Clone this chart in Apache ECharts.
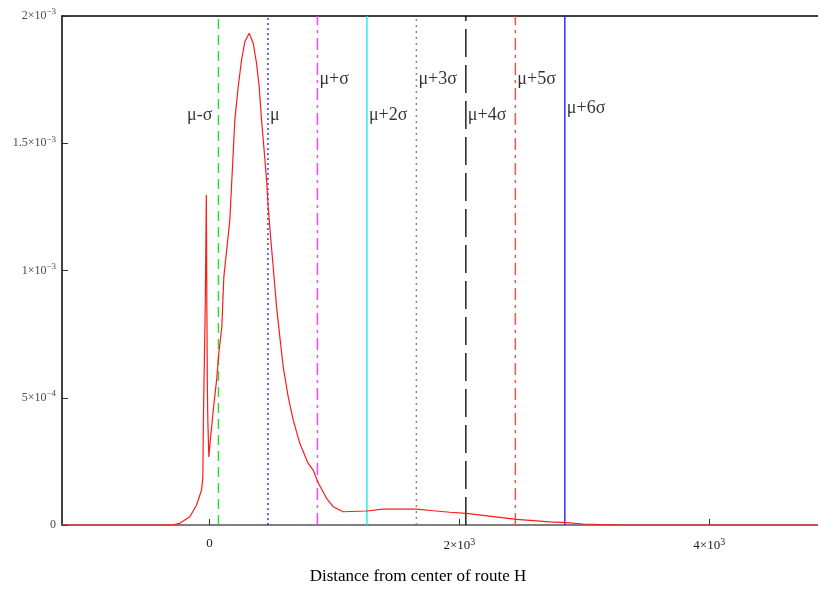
<!DOCTYPE html>
<html>
<head>
<meta charset="utf-8">
<script src="https://cdn.jsdelivr.net/npm/echarts@6/dist/echarts.min.js"></script>
<style>html,body{margin:0;padding:0;background:#fff}#chart{width:818px;height:590px}</style>
</head>
<body>
<div id="chart"></div>
<script>
// ---- data ----
const curveX = [-1180, -301, -237, -157, -103, -63, -53, -49, -33, -25, -21, -17, -13, -5, 3, 19, 35, 59, 75, 99, 115, 163, 190, 203, 230, 257, 283, 318, 350, 377, 398, 417, 435, 457, 470, 489, 510, 537, 563, 590, 630, 670, 723, 790, 830, 870, 937, 990, 1070, 1257, 1390, 1657, 1790, 1923, 2057, 2190, 2323, 2457, 2590, 2723, 2857, 2990, 3123, 3283, 4870];
const curveY = [0, 0, 0.0067e-3, 0.0326e-3, 0.0786e-3, 0.1375e-3, 0.185e-3, 0.393e-3, 0.884e-3, 1.297e-3, 0.884e-3, 0.55e-3, 0.413e-3, 0.267e-3, 0.314e-3, 0.393e-3, 0.472e-3, 0.578e-3, 0.676e-3, 0.778e-3, 0.974e-3, 1.198e-3, 1.462e-3, 1.591e-3, 1.722e-3, 1.827e-3, 1.899e-3, 1.932e-3, 1.893e-3, 1.814e-3, 1.722e-3, 1.591e-3, 1.487e-3, 1.356e-3, 1.251e-3, 1.133e-3, 1.015e-3, 0.858e-3, 0.740e-3, 0.622e-3, 0.504e-3, 0.413e-3, 0.321e-3, 0.242e-3, 0.216e-3, 0.166e-3, 0.105e-3, 0.072e-3, 0.052e-3, 0.055e-3, 0.062e-3, 0.062e-3, 0.056e-3, 0.050e-3, 0.046e-3, 0.038e-3, 0.030e-3, 0.022e-3, 0.017e-3, 0.012e-3, 0.009e-3, 0.004e-3, 0.002e-3, 0, 0];

const mu = 468;
const sigma = 396;
const sigmaMultiples = [-1, 0, 1, 2, 3, 4, 5, 6];
const sigmaLabels = ['μ-σ', 'μ', 'μ+σ', 'μ+2σ', 'μ+3σ', 'μ+4σ', 'μ+5σ', 'μ+6σ'];
const sigmaLabelY = [1.611e-3, 1.611e-3, 1.752e-3, 1.611e-3, 1.752e-3, 1.611e-3, 1.752e-3, 1.638e-3];

const xRange = [-1180, 4870];
const yRange = [0, 0.002];
const xTickValues = [0, 2000, 4000];
const xTickMantissa = ['0', '2', '4'];
const xTickExp = ['', '3', '3'];
const yTickValues = [0, 0.0005, 0.001, 0.0015, 0.002];
const yTickMantissa = ['0', '5', '1', '1.5', '2'];
const yTickExp = ['', '−4', '−3', '−3', '−3'];
const xAxisTitle = 'Distance from center of route H';

// ---- styles ----
const lineStyles = [
  {color: '#33dd33', width: 1.5, type: [10, 6]},
  {color: '#1a1aff', width: 1.3, type: [2, 3]},
  {color: '#ff44ff', width: 1.5, type: [12, 5, 3, 5]},
  {color: '#20e8e8', width: 1.4, type: 'solid'},
  {color: '#b07a48', width: 1.5, type: [2, 4]},
  {color: '#000000', width: 1.3, type: [28, 8]},
  {color: '#ff5050', width: 1.5, type: [12, 5, 3, 5]},
  {color: '#2020ff', width: 1.4, type: 'solid'}
];
const serif = '"Liberation Serif", "Times New Roman", serif';

const curveData = curveX.map((x, i) => [x, curveY[i]]);
const positions = sigmaMultiples.map(k => mu + k * sigma);
const lineSeries = positions.map((x, i) => ({
  name: sigmaLabels[i], type: 'line', silent: true, showSymbol: false, z: 3,
  data: [[x, yRange[0]], [x, yRange[1]]],
  lineStyle: lineStyles[i], itemStyle: {color: lineStyles[i].color}
}));
const labelData = positions.map((x, i) => ({
  value: [x, sigmaLabelY[i]],
  label: {position: i === 0 ? 'left' : 'right', distance: i === 0 ? 6 : 2}
}));

function sciLabel(mant, exp) {
  if (!exp) return '{m|' + mant + '}';
  return '{m|' + mant + '×10}{s|' + exp + '}';
}

const chart = echarts.init(document.getElementById('chart'), null, {renderer: 'canvas'});
chart.setOption({
  animation: false,
  backgroundColor: '#ffffff',
  grid: {left: 62, right: 0, top: 16, bottom: 65, containLabel: false},
  xAxis: [{
    type: 'value', min: xRange[0], max: xRange[1],
    name: xAxisTitle, nameLocation: 'middle', nameGap: 43,
    nameTextStyle: {fontFamily: serif, fontSize: 17, color: '#000', padding: [0, 44, 0, 0]},
    axisLine: {show: true, onZero: false, lineStyle: {color: '#555', width: 1.5}},
    axisTick: {show: true, inside: true, length: 6, customValues: xTickValues, lineStyle: {color: '#333'}},
    axisLabel: {
      show: true, margin: 12, customValues: xTickValues,
      formatter: v => { const i = xTickValues.indexOf(v); return i < 0 ? '' : sciLabel(xTickMantissa[i], xTickExp[i]); },
      rich: {
        m: {fontFamily: serif, fontSize: 13, color: '#222'},
        s: {fontFamily: serif, fontSize: 10, color: '#222', padding: [0, 0, 8, 0]}
      }
    },
    splitLine: {show: false}
  }, {
    type: 'value', min: xRange[0], max: xRange[1], position: 'top',
    axisLine: {show: true, onZero: false, lineStyle: {color: '#000', width: 1.5}},
    axisTick: {show: false}, axisLabel: {show: false}, splitLine: {show: false}
  }],
  yAxis: {
    type: 'value', min: yRange[0], max: yRange[1], interval: 0.0005,
    axisLine: {show: true, onZero: false, lineStyle: {color: '#000', width: 1.5}},
    axisTick: {show: true, inside: true, length: 6, lineStyle: {color: '#333'}},
    axisLabel: {
      margin: 6,
      formatter: v => { const i = yTickValues.findIndex(t => Math.abs(t - v) < 1e-9); return i < 0 ? '' : sciLabel(yTickMantissa[i], yTickExp[i]); },
      rich: {
        m: {fontFamily: serif, fontSize: 12, color: '#3d4d5d'},
        s: {fontFamily: serif, fontSize: 9, color: '#3d4d5d', padding: [0, 0, 8, 0]}
      }
    },
    splitLine: {show: false}
  },
  series: lineSeries.concat([{
    name: 'pdf', type: 'line', data: curveData, showSymbol: false, z: 5,
    lineStyle: {color: '#ff1a1a', width: 1.2}, itemStyle: {color: '#ff1a1a'}
  }, {
    name: 'labels', type: 'scatter', data: labelData, symbolSize: 0, silent: true, z: 6,
    label: {show: true, formatter: p => sigmaLabels[p.dataIndex], fontFamily: serif, fontSize: 18, color: '#000'}
  }])
});
</script>
</body>
</html>
